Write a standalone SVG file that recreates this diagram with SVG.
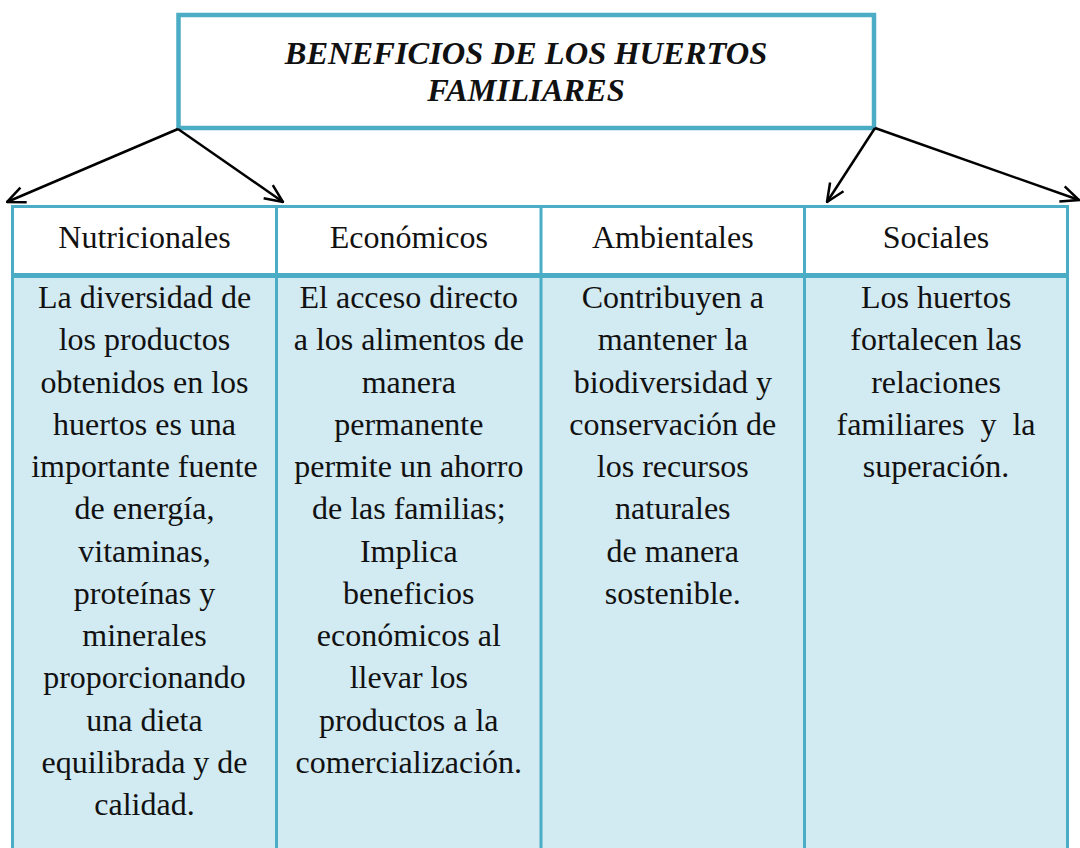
<svg xmlns="http://www.w3.org/2000/svg" width="1080" height="848" viewBox="0 0 1080 848">
<style>
.t{font-family:"Liberation Serif","Times New Roman",serif;font-size:32px;fill:#111;text-anchor:middle;white-space:pre}
.title{font-weight:bold;font-style:italic;font-size:32.5px}
.b{stroke:#4BACC6;fill:none}
.arr{stroke:#000;stroke-width:2.5;fill:none}
</style>
<defs>
<marker id="ah" viewBox="0 0 20 20" refX="19" refY="10" markerWidth="20" markerHeight="20" markerUnits="userSpaceOnUse" orient="auto">
<path d="M1,2 L19,10 L1,18" fill="none" stroke="#000" stroke-width="2.5"/>
</marker>
</defs>
<rect width="1080" height="848" fill="#fff"/>
<g id="title">
<rect x="178.5" y="15" width="695.5" height="113" fill="#fff" stroke="#4BACC6" stroke-width="4.5"/>
<text class="t title" x="526" y="64">BENEFICIOS DE LOS HUERTOS</text>
<text class="t title" x="526" y="101">FAMILIARES</text>
</g>
<g id="connectors">
<line class="arr" x1="178" y1="129" x2="7" y2="202" marker-end="url(#ah)"/>
<line class="arr" x1="178" y1="129" x2="283" y2="202" marker-end="url(#ah)"/>
<line class="arr" x1="875" y1="128" x2="827" y2="202" marker-end="url(#ah)"/>
<line class="arr" x1="875" y1="128" x2="1079" y2="200" marker-end="url(#ah)"/>
</g>
<g id="table-bg">
<rect x="12.5" y="206" width="1055" height="70" fill="#fff"/>
<rect x="12.5" y="276" width="1055" height="580" fill="#D2EAF1"/>
</g>
<g id="nutricionales">
<text class="t" x="144.5" y="248">Nutricionales</text>
<text class="t" x="144.5" y="308">La diversidad de</text>
<text class="t" x="144.5" y="350.3">los productos</text>
<text class="t" x="144.5" y="392.5">obtenidos en los</text>
<text class="t" x="144.5" y="434.8">huertos es una</text>
<text class="t" x="144.5" y="477">importante fuente</text>
<text class="t" x="144.5" y="519.3">de energía,</text>
<text class="t" x="144.5" y="561.5">vitaminas,</text>
<text class="t" x="144.5" y="603.8">proteínas y</text>
<text class="t" x="144.5" y="646">minerales</text>
<text class="t" x="144.5" y="688.3">proporcionando</text>
<text class="t" x="144.5" y="730.5">una dieta</text>
<text class="t" x="144.5" y="772.8">equilibrada y de</text>
<text class="t" x="144.5" y="815">calidad.</text>
</g>
<g id="economicos">
<text class="t" x="408.8" y="248">Económicos</text>
<text class="t" x="408.8" y="308">El acceso directo</text>
<text class="t" x="408.8" y="350.3">a los alimentos de</text>
<text class="t" x="408.8" y="392.5">manera</text>
<text class="t" x="408.8" y="434.8">permanente</text>
<text class="t" x="408.8" y="477">permite un ahorro</text>
<text class="t" x="408.8" y="519.3">de las familias;</text>
<text class="t" x="408.8" y="561.5">Implica</text>
<text class="t" x="408.8" y="603.8">beneficios</text>
<text class="t" x="408.8" y="646">económicos al</text>
<text class="t" x="408.8" y="688.3">llevar los</text>
<text class="t" x="408.8" y="730.5">productos a la</text>
<text class="t" x="408.8" y="772.8">comercialización.</text>
</g>
<g id="ambientales">
<text class="t" x="672.8" y="248">Ambientales</text>
<text class="t" x="672.8" y="308">Contribuyen a</text>
<text class="t" x="672.8" y="350.3">mantener la</text>
<text class="t" x="672.8" y="392.5">biodiversidad y</text>
<text class="t" x="672.8" y="434.8">conservación de</text>
<text class="t" x="672.8" y="477">los recursos</text>
<text class="t" x="672.8" y="519.3">naturales</text>
<text class="t" x="672.8" y="561.5">de manera</text>
<text class="t" x="672.8" y="603.8">sostenible.</text>
</g>
<g id="sociales">
<text class="t" x="936" y="248">Sociales</text>
<text class="t" x="936" y="308">Los huertos</text>
<text class="t" x="936" y="350.3">fortalecen las</text>
<text class="t" x="936" y="392.5">relaciones</text>
<text class="t" x="936" y="434.8">familiares  y  la</text>
<text class="t" x="936" y="477">superación.</text>
</g>
<g id="grid">
<line class="b" x1="11" y1="206.5" x2="1069" y2="206.5" stroke-width="3"/>
<line class="b" x1="11" y1="275.5" x2="1069" y2="275.5" stroke-width="5"/>
<line class="b" x1="12.5" y1="205" x2="12.5" y2="848" stroke-width="3"/>
<line class="b" x1="276.5" y1="205" x2="276.5" y2="848" stroke-width="3"/>
<line class="b" x1="541" y1="205" x2="541" y2="848" stroke-width="3"/>
<line class="b" x1="804.5" y1="205" x2="804.5" y2="848" stroke-width="3"/>
<line class="b" x1="1067.5" y1="205" x2="1067.5" y2="848" stroke-width="3"/>
</g>
</svg>
